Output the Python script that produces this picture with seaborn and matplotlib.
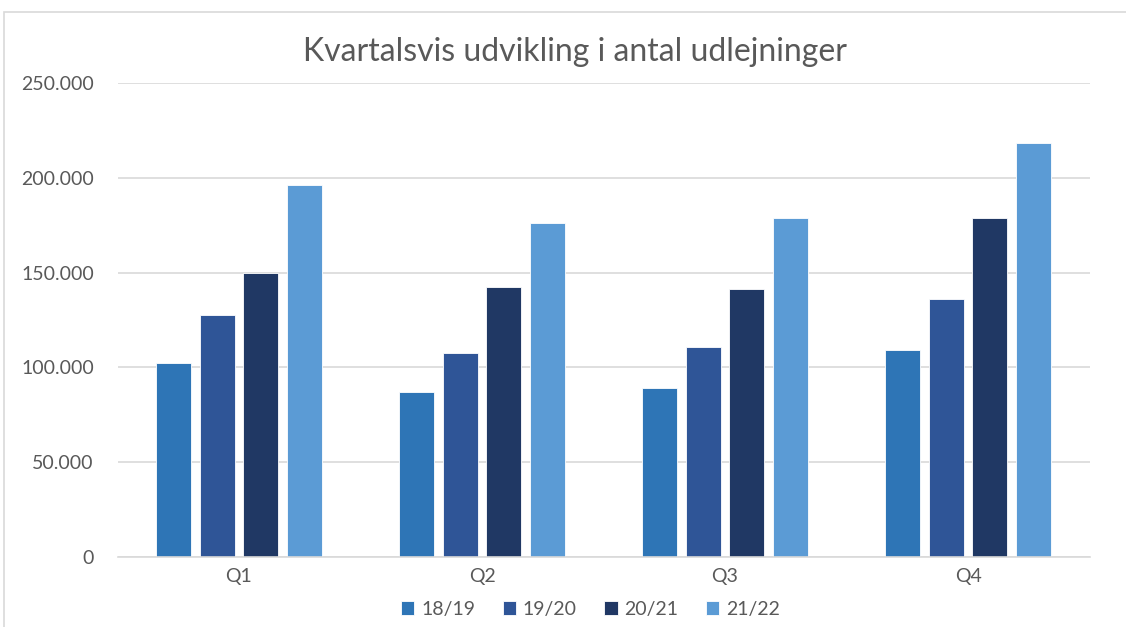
import matplotlib.pyplot as plt
import matplotlib.ticker as mticker
import pandas as pd
import seaborn as sns
from matplotlib.patches import Rectangle

# --- data ---
quarters = ["Q1", "Q2", "Q3", "Q4"]
seasons = ["18/19", "19/20", "20/21", "21/22"]
v_18_19 = [102500, 87000, 89200, 109000]
v_19_20 = [127600, 107700, 110900, 135900]
v_20_21 = [150000, 142500, 141500, 178600]
v_21_22 = [196000, 176300, 178900, 218300]
colors = ["#2E75B6", "#2F5597", "#203864", "#5B9BD5"]

rows = []
for season, vals in zip(seasons, [v_18_19, v_19_20, v_20_21, v_21_22]):
    for q, v in zip(quarters, vals):
        rows.append({"kvartal": q, "saeson": season, "antal": v})
df = pd.DataFrame(rows)

sns.set_style("white")
plt.rcParams["font.family"] = ["Lato", "DejaVu Sans"]
grey = "#595959"

fig = plt.figure(figsize=(11.26, 6.27), dpi=100)
ax = fig.add_axes([117.5 / 1126, 1 - 557 / 627, (1089.5 - 117.5) / 1126, (557 - 83) / 627])

sns.barplot(
    data=df, x="kvartal", y="antal", hue="saeson", order=quarters,
    hue_order=seasons, palette=colors, saturation=1, width=0.72, gap=0.2,
    edgecolor="white", linewidth=0.6, ax=ax, legend=True,
)

ax.set_ylim(0, 250000)
ax.set_xlim(-0.5, 3.5)
ax.yaxis.set_major_locator(mticker.MultipleLocator(50000))
ax.yaxis.set_major_formatter(
    mticker.FuncFormatter(lambda v, p: f"{int(v):,}".replace(",", "."))
)
ax.grid(axis="y", color="#D9D9D9", linewidth=1.2)
ax.set_axisbelow(True)
for s in ["top", "right", "left"]:
    ax.spines[s].set_visible(False)
ax.spines["bottom"].set_color("#D9D9D9")
ax.spines["bottom"].set_linewidth(1.2)
ax.tick_params(axis="both", length=0, labelsize=14, labelcolor=grey)
ax.tick_params(axis="y", pad=17)
ax.tick_params(axis="x", pad=8)
ax.set_xlabel("")
ax.set_ylabel("")

fig.text(575 / 1126, 1 - 52 / 627, "Kvartalsvis udvikling i antal udlejninger",
         ha="center", va="center", fontsize=23, color=grey)

leg = ax.legend(loc="center", bbox_to_anchor=(0.4866, -0.11), ncol=4, frameon=False,
                fontsize=14, handlelength=0.7, handleheight=0.7,
                columnspacing=1.4, handletextpad=0.35, labelcolor=grey)

# chart frame
fig.patches.append(Rectangle((4 / 1126, -0.01), 1.02, 1 - 12 / 627 + 0.01,
                             transform=fig.transFigure, fill=False,
                             edgecolor="#D9D9D9", linewidth=1.2))

fig.savefig("out.png", dpi=100)
